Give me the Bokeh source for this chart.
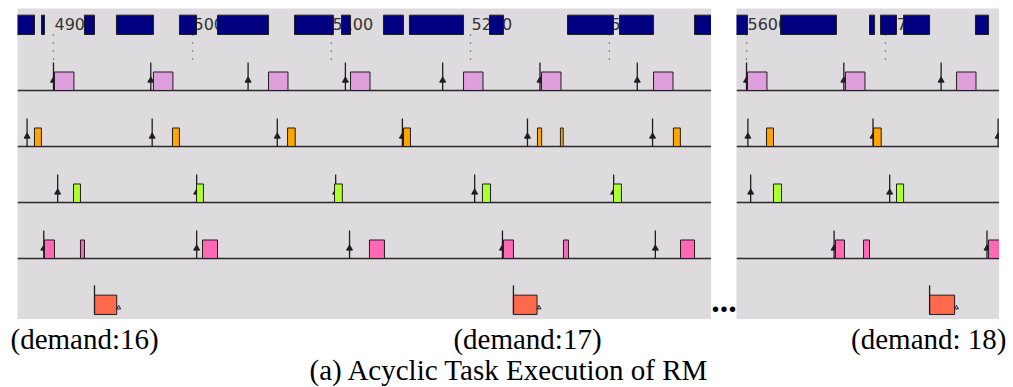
from bokeh.plotting import figure
from bokeh.models import Range1d, Label
from bokeh.layouts import column, row
from bokeh.embed import file_html
from bokeh.resources import INLINE
from bokeh.core.properties import value

# ---------------- data (time units) ----------------
ticks_left = [4900, 5000, 5100, 5200, 5300]
ticks_right = [5600, 5700]

# top row (blue): busy segments
cpu_start = [4870.0, 4891.4, 4922.3, 4945.3, 4990.6, 5018.0, 5073.4, 5107.2, 5137.4,
             5156.1, 5213.7, 5269.8, 5307.2, 5361.2,
             5590.0, 5624.5, 5688.5, 5696.4, 5713.0, 5764.7]
cpu_end = [4886.3, 4893.5, 4929.5, 4971.9, 5002.9, 5054.7, 5101.4, 5113.7, 5151.8,
           5195.0, 5223.7, 5302.9, 5331.7, 5380.0,
           5600.7, 5664.7, 5692.1, 5707.9, 5731.7, 5774.1]

# task 1 (plum)
t1_release = [4900, 4970, 5040, 5110, 5180, 5250, 5320, 5600, 5670, 5740]
t1_start = [4900.7, 4971.9, 5054.7, 5113.7, 5195.0, 5251.1, 5331.7, 5600.7, 5671.2, 5751.1]
t1_dur = [14, 14, 14, 14, 14, 14, 14, 14, 14, 14]

# task 2 (orange)
t2_release = [4881, 4971, 5061, 5151, 5241, 5331, 5601, 5691, 5781]
t2_start = [4886.3, 4985.6, 5068.4, 5151.8, 5248.2, 5264.7, 5346.0, 5614.4, 5691.4]
t2_dur = [5, 5, 5.5, 5, 3, 2, 5, 5, 5.5]

# task 3 (green)
t3_release = [4903, 5003, 5103, 5203, 5303, 5603, 5703]
t3_start = [4914.4, 5002.9, 5102.2, 5208.6, 5302.9, 5619.4, 5707.9]
t3_dur = [5, 5, 5.6, 5.8, 5.7, 5.8, 5.1]

# task 4 (hot pink)
t4_release = [4893, 5003, 5113, 5223, 5333, 5663, 5773]
t4_start = [4893.5, 4919.4, 5007.2, 5127.3, 5223.7, 5266.9, 5351.1, 5664.0, 5684.2, 5774.1]
t4_dur = [7.2, 2.9, 10.8, 10.8, 7.2, 3.6, 10.1, 6.5, 4.3, 10.0]

# acyclic task (tomato): arrival and demand
ac_start = [4929.5, 5230.9, 5731.7]
ac_demand = [16, 17, 18]

captions = ["(demand:16)", "(demand:17)", "(demand: 18)"]
title_text = "(a) Acyclic Task Execution of RM"

# ---------------- styling ----------------
BG = "#dedbde"
EDGE = "#1e1e1e"
TASKS = [
    (1, t1_release, t1_start, t1_dur, "#dda0dd"),
    (2, t2_release, t2_start, t2_dur, "#ffa500"),
    (3, t3_release, t3_start, t3_dur, "#adff2f"),
    (4, t4_release, t4_start, t4_dur, "#ff69b4"),
]
BAR_H = 0.33
TOP = 8
PANEL_H = 311
Y_RANGE = (5.09, -0.464)


def inside(xs, lo, hi):
    return [x for x in xs if lo - 30 <= x <= hi + 30]


def make_panel(x0, x1, width, border_left, ticks):
    p = figure(width=width, height=PANEL_H + TOP, x_range=Range1d(x0, x1),
               y_range=Range1d(*Y_RANGE), output_backend="svg",
               toolbar_location=None, x_axis_type=None, y_axis_type=None,
               min_border=0, min_border_left=border_left, min_border_top=TOP)
    p.grid.visible = False
    p.outline_line_color = None
    p.background_fill_color = BG
    p.border_fill_color = "white"

    # time marks: dotted line + label (label partly hidden by the blue bars)
    p.segment(x0=ticks, y0=[0.0] * len(ticks), x1=ticks, y1=[0.5] * len(ticks),
              line_color="#333333", line_width=1.2, line_dash="1 7")
    p.text(x=ticks, y=[-0.18] * len(ticks), text=[str(t) for t in ticks],
           text_font=value("DejaVu Sans"), text_font_size="16px",
           text_color="#333333", text_baseline="alphabetic", x_offset=1)

    # blue row
    p.quad(left=cpu_start, right=cpu_end, bottom=0.0, top=-0.345,
           fill_color="#000080", line_color=EDGE, line_width=1)

    # baselines of periodic tasks
    p.hspan(y=[1, 2, 3, 4], line_color="#2a2a2a", line_width=1.5)

    for k, rel, st, du, col in TASKS:
        rel_v = inside(rel, x0, x1)
        p.segment(x0=rel_v, y0=[k] * len(rel_v), x1=rel_v, y1=[k - 0.5] * len(rel_v),
                  line_color=EDGE, line_width=1.3)
        p.scatter(x=rel_v, y=[k - 0.18] * len(rel_v), marker="triangle", size=6,
                  fill_color=EDGE, line_color=EDGE)
        ends = [s + d for s, d in zip(st, du)]
        p.quad(left=st, right=ends, bottom=[k] * len(st), top=[k - BAR_H] * len(st),
               fill_color=col, line_color=EDGE, line_width=1)

    # acyclic task row
    ac_end = [s + d for s, d in zip(ac_start, ac_demand)]
    av = [s for s in ac_start if x0 - 30 <= s <= x1 + 30]
    p.quad(left=ac_start, right=ac_end, bottom=5.0, top=5.0 - 0.345,
           fill_color="#ff6a4d", line_color=EDGE, line_width=1)
    p.segment(x0=av, y0=[5.0] * len(av), x1=av, y1=[4.48] * len(av),
              line_color=EDGE, line_width=1.3)
    ev = [e + 1.4 for e in ac_end if x0 - 30 <= e <= x1 + 30]
    p.scatter(x=ev, y=[4.88] * len(ev), marker="triangle", size=4,
              fill_color=None, line_color=EDGE, line_width=1)
    return p


left = make_panel(4874.1, 5373.4, 711, 17, ticks_left)
right = make_panel(5592.8, 5782.0, 263, 0, ticks_right)

mid = figure(width=25, height=PANEL_H + TOP, x_range=Range1d(0, 25),
             y_range=Range1d(PANEL_H, 0), output_backend="svg", toolbar_location=None,
             x_axis_type=None, y_axis_type=None, min_border=0, min_border_top=TOP)
mid.grid.visible = False
mid.outline_line_color = None
mid.background_fill_color = "white"
mid.border_fill_color = "white"
mid.add_layout(Label(x=12.5, y=292, text="...", text_font="Liberation Serif",
                     text_font_size="34px", text_font_style="bold", text_align="center",
                     text_baseline="alphabetic", text_color="black"))

cap = figure(width=1013, height=68, x_range=Range1d(0, 1013), y_range=Range1d(68, 0),
             output_backend="svg", toolbar_location=None, x_axis_type=None, y_axis_type=None,
             min_border=0)
cap.grid.visible = False
cap.outline_line_color = None
cap.background_fill_color = "white"
cap.border_fill_color = "white"
for txt, xx, al in zip(captions, [10, 527, 1006], ["left", "center", "right"]):
    cap.add_layout(Label(x=xx, y=19, text=txt, text_font="Liberation Serif",
                         text_font_size="29px", text_align=al, text_baseline="alphabetic",
                         text_color="black"))
cap.add_layout(Label(x=509, y=50, text=title_text, text_font="Liberation Serif",
                     text_font_size="29px", text_align="center", text_baseline="alphabetic",
                     text_color="black"))

layout = column(row(left, mid, right), cap)
open("out.html", "w").write(file_html(layout, INLINE))
